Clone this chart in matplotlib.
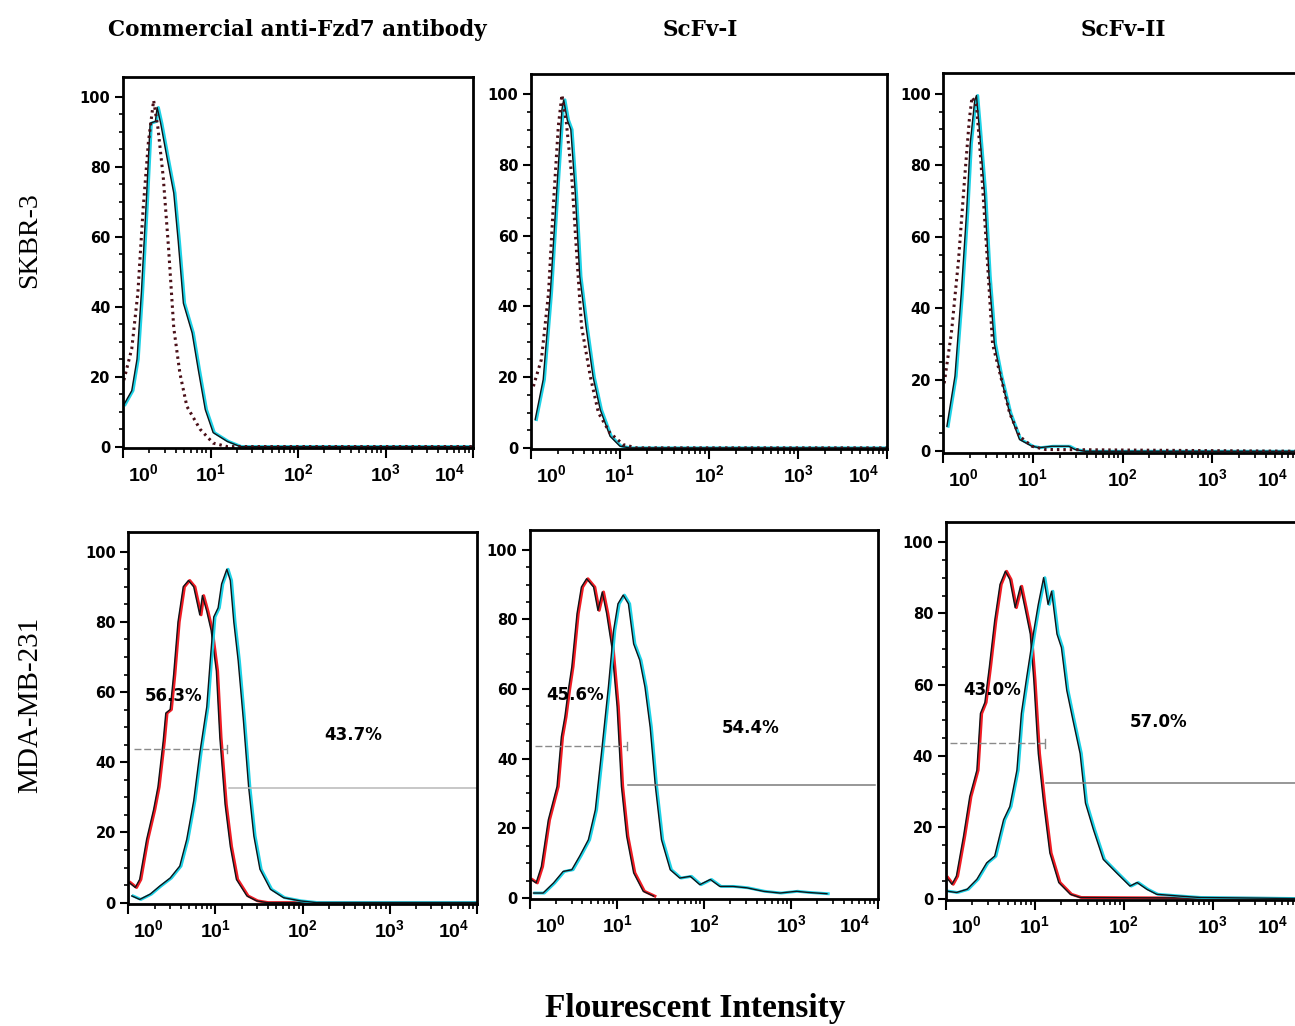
import numpy as np
import matplotlib
matplotlib.use("Agg")
import matplotlib.pyplot as plt
from matplotlib.ticker import FixedLocator, NullFormatter
from matplotlib.transforms import offset_copy, ScaledTranslation

# =====================================================
# DATA (x in log10 units, y = counts in % of max)
# =====================================================

col_titles = ["Commercial anti-Fzd7 antibody", "ScFv-I", "ScFv-II"]
row_titles = ["SKBR-3", "MDA-MB-231"]

# --- SKBR-3 ---
p1_ctrl_lx = [0.01, 0.10, 0.17, 0.23, 0.29, 0.35, 0.40, 0.46, 0.52, 0.58, 0.65, 0.73, 0.88, 1.03, 1.19, 4.0]
p1_ctrl_y = [19, 28, 44, 68, 87, 99, 91, 77, 57, 34, 21, 11.5, 5, 1, 0, 0]
p1_samp_lx = [0.01, 0.10, 0.16, 0.21, 0.27, 0.31, 0.37, 0.39, 0.43, 0.50, 0.58, 0.63, 0.69, 0.79, 0.86, 0.94, 1.03, 1.19, 1.34, 4.0]
p1_samp_y = [12, 16, 25, 44, 72, 92.5, 93, 97, 92.5, 83, 72.5, 59, 41, 32.5, 22, 10.6, 4, 1.5, 0, 0]

p2_ctrl_lx = [0.03, 0.12, 0.20, 0.25, 0.31, 0.35, 0.40, 0.46, 0.52, 0.57, 0.67, 0.76, 0.89, 1.04, 1.19, 4.0]
p2_ctrl_y = [17.4, 25, 43.8, 67, 91, 99.8, 92, 76.7, 53.2, 34.4, 20, 9.9, 4.2, 0.9, 0, 0]
p2_samp_lx = [0.05, 0.14, 0.22, 0.29, 0.35, 0.37, 0.41, 0.45, 0.50, 0.55, 0.62, 0.70, 0.78, 0.89, 1.00, 1.11, 4.0]
p2_samp_y = [8, 19.3, 43.8, 72, 95.6, 98.4, 92.7, 90, 72, 48.5, 34.4, 20, 10.8, 3.3, 0.5, 0, 0]

p3_ctrl_lx = [0.01, 0.09, 0.17, 0.24, 0.29, 0.32, 0.37, 0.42, 0.48, 0.55, 0.64, 0.74, 0.85, 0.99, 1.14, 4.0]
p3_ctrl_y = [19, 33, 53.5, 77, 92.6, 99, 97, 81, 58, 30, 21, 10.7, 4.2, 1.4, 0.5, 0]
p3_samp_lx = [0.04, 0.13, 0.20, 0.26, 0.30, 0.35, 0.37, 0.40, 0.46, 0.51, 0.57, 0.64, 0.74, 0.85, 0.99, 1.07, 1.21, 1.40, 1.47, 1.58, 4.0]
p3_samp_y = [7, 21, 44, 67, 86, 98, 99.5, 90.7, 72, 49, 30, 21, 10.7, 3.3, 1.4, 1, 1.4, 1.4, 0.5, 0, 0]

# --- MDA-MB-231 ---
p4_ctrl_lx = [0.01, 0.08, 0.13, 0.21, 0.29, 0.34, 0.40, 0.43, 0.48, 0.52, 0.57, 0.63, 0.69, 0.75, 0.82, 0.85,
              0.90, 0.95, 1.01, 1.05, 1.11, 1.17, 1.24, 1.36, 1.47, 1.59, 4.0]
p4_ctrl_y = [5.7, 4.3, 6.6, 18, 26.5, 33, 46, 54, 55, 65, 80, 90, 91.8, 90, 82, 87.5,
             83, 77.6, 66, 47, 28, 16, 6.6, 1.9, 0.5, 0, 0]
p4_samp_lx = [0.04, 0.13, 0.25, 0.36, 0.48, 0.59, 0.67, 0.75, 0.82, 0.90, 0.94, 0.98, 1.03, 1.07, 1.13,
              1.17, 1.21, 1.26, 1.32, 1.38, 1.44, 1.51, 1.63, 1.78, 1.97, 2.16, 4.0]
p4_samp_y = [1.9, 0.9, 2.4, 4.7, 7, 10.4, 18, 29, 42.6, 55.8, 69, 81.4, 84, 90.8, 95,
             91.8, 80, 69, 52, 33, 19, 9.5, 3.8, 1.4, 0.5, 0, 0]

p5_ctrl_lx = [0.01, 0.07, 0.13, 0.21, 0.31, 0.36, 0.40, 0.44, 0.48, 0.54, 0.59, 0.65, 0.73, 0.78, 0.83,
              0.88, 0.94, 1.00, 1.05, 1.11, 1.19, 1.30, 1.42]
p5_ctrl_y = [5.3, 4.3, 9, 22.4, 32, 46.3, 52, 59.7, 66.4, 81.7, 89.3, 91.7, 89.3, 82.6, 87.9,
             81.7, 72, 55, 32, 17.7, 7.2, 1.9, 0.5]
p5_samp_lx = [0.04, 0.15, 0.27, 0.38, 0.48, 0.57, 0.67, 0.75, 0.82, 0.90, 0.96, 1.01, 1.07, 1.13, 1.19,
              1.26, 1.32, 1.38, 1.44, 1.51, 1.61, 1.72, 1.84, 1.95, 2.07, 2.18, 2.33, 2.49, 2.68,
              2.87, 3.06, 3.18, 3.41]
p5_samp_y = [1.4, 1.4, 4.3, 7.6, 8.1, 12, 16.7, 25.3, 41.5, 60.6, 76.9, 84.5, 87, 84.5, 73,
             68.3, 60.6, 49, 32, 16.7, 8.1, 5.7, 6.2, 3.8, 5.3, 3.3, 3.3, 2.9, 1.9,
             1.4, 1.9, 1.6, 1.2]

p6_ctrl_lx = [0.01, 0.07, 0.12, 0.20, 0.27, 0.35, 0.39, 0.44, 0.49, 0.55, 0.61, 0.67, 0.72, 0.78, 0.84,
              0.89, 0.95, 0.99, 1.04, 1.10, 1.17, 1.27, 1.40, 1.51, 4.0]
p6_ctrl_y = [5.9, 4, 6.3, 17.5, 28.6, 36, 51.9, 55, 64.9, 77.9, 88.1, 91.8, 89.5, 81.6, 87.6,
             81.6, 74.2, 61.2, 40.7, 26.8, 12.8, 4.5, 1.2, 0.3, 0]
p6_samp_lx = [0.01, 0.12, 0.24, 0.35, 0.46, 0.55, 0.65, 0.72, 0.80, 0.85, 0.91, 0.99, 1.04, 1.10, 1.15,
              1.19, 1.25, 1.30, 1.36, 1.43, 1.51, 1.57, 1.66, 1.77, 1.92, 2.07, 2.15, 2.26, 2.37,
              2.63, 2.86, 4.0]
p6_samp_y = [2.1, 1.7, 2.6, 5.4, 10, 11.9, 22.1, 25.8, 36, 51.9, 62.1, 75.1, 82.5, 90, 82.5,
             86.2, 74.2, 70.4, 58.4, 50, 40.7, 26.8, 19.3, 11, 7.2, 3.5, 4.5, 2.6, 1.2,
             0.7, 0.3, 0]

# gates (x0, x1, y) in log10 units
gate_neg = [(0.06, 1.13, 43.7), (0.06, 1.11, 43.6), (0.05, 1.12, 43.5)]
gate_pos = [(1.16, 4.0, 32.6), (1.13, 3.96, 32.5), (1.13, 4.0, 32.3)]
pct_neg = ["56.3%", "45.6%", "43.0%"]
pct_pos = ["43.7%", "54.4%", "57.0%"]
pct_neg_pos = [(0.52, 58.8), (0.52, 58.3), (0.52, 58.6)]
pct_pos_pos = [(2.58, 47.8), (2.53, 48.7), (2.39, 49.5)]

# axes boxes in pixels: left, right, top, bottom
W, H = 1295, 1026
boxes = [
    (123, 473, 77, 448), (530.7, 887.3, 74, 449.3), (943.3, 1301.7, 73.3, 452.7),
    (128.3, 477, 531.7, 904), (530, 878.3, 530, 899.3), (945.7, 1301.7, 521.7, 900),
]
last_label_shift = [-8, -8, -13, -8, -8, -13]

ctrl = [(p1_ctrl_lx, p1_ctrl_y), (p2_ctrl_lx, p2_ctrl_y), (p3_ctrl_lx, p3_ctrl_y),
        (p4_ctrl_lx, p4_ctrl_y), (p5_ctrl_lx, p5_ctrl_y), (p6_ctrl_lx, p6_ctrl_y)]
samp = [(p1_samp_lx, p1_samp_y), (p2_samp_lx, p2_samp_y), (p3_samp_lx, p3_samp_y),
        (p4_samp_lx, p4_samp_y), (p5_samp_lx, p5_samp_y), (p6_samp_lx, p6_samp_y)]

plt.rcParams["mathtext.fontset"] = "custom"
plt.rcParams["mathtext.rm"] = "Liberation Sans:bold"
plt.rcParams["mathtext.it"] = "Liberation Sans:bold"
plt.rcParams["mathtext.bf"] = "Liberation Sans:bold"

# =====================================================
# FIGURE
# =====================================================

fig = plt.figure(figsize=(W / 100, H / 100), dpi=100)


def colour_line(ax, lx, y, colour):
    # black trace with a coloured fringe on its right side
    x = 10 ** np.array(lx)
    shifted = offset_copy(ax.transData, fig=fig, x=1.3, y=0, units="dots")
    ax.plot(x, y, color=colour, lw=2.1, transform=shifted)
    ax.plot(x, y, color="#101418", lw=1.0)


for i, (l, r, t, b) in enumerate(boxes):
    ax = fig.add_axes([l / W, 1 - b / H, (r - l) / W, (b - t) / H])
    ax.set_xscale("log")
    ax.set_xlim(1, 1e4)
    ax.set_ylim(-0.4, 105.7)

    cx, cy = ctrl[i]
    sx, sy = samp[i]
    if i < 3:
        colour_line(ax, sx, sy, "#1ed2e6")
        ax.plot(10 ** np.array(cx), cy, color="#4a1018", lw=2.2,
                linestyle=(0, (0.8, 1.3)))
    else:
        colour_line(ax, cx, cy, "#f01c24")
        colour_line(ax, sx, sy, "#1ed2e6")

        j = i - 3
        x0, x1, gy = gate_neg[j]
        ax.plot([10 ** x0, 10 ** x1], [gy, gy], color="#8a8a8a", lw=1,
                linestyle=(0, (5, 2)))
        ax.plot([10 ** x1, 10 ** x1], [gy - 1.2, gy + 1.2], color="#8a8a8a", lw=1)
        x0, x1, gy = gate_pos[j]
        ax.plot([10 ** x0, 10 ** x1], [gy, gy],
                color="#b8b8b8" if j == 0 else "#7a7a7a", lw=1.1)
        px, py = pct_neg_pos[j]
        ax.text(10 ** px, py, pct_neg[j], ha="center", va="center",
                fontsize=12, fontweight="bold", family="DejaVu Sans")
        px, py = pct_pos_pos[j]
        ax.text(10 ** px, py, pct_pos[j], ha="center", va="center",
                fontsize=12, fontweight="bold", family="DejaVu Sans")

    for s in ax.spines.values():
        s.set_linewidth(2.0)

    ax.yaxis.set_major_locator(FixedLocator([0, 20, 40, 60, 80, 100]))
    ax.yaxis.set_minor_locator(FixedLocator(np.arange(0, 101, 5)))
    ax.tick_params(axis="y", which="major", direction="out", length=6, width=1.5, pad=3)
    ax.tick_params(axis="y", which="minor", direction="out", length=3, width=1.2)
    ax.set_yticklabels(["0", "20", "40", "60", "80", "100"],
                       fontsize=10.5, fontweight="bold", family="DejaVu Sans")

    ax.xaxis.set_major_locator(FixedLocator([1, 10, 100, 1000, 10000]))
    ax.xaxis.set_minor_locator(FixedLocator(
        [m * 10 ** d for d in range(4) for m in range(2, 10)]))
    ax.xaxis.set_minor_formatter(NullFormatter())
    ax.tick_params(axis="x", which="major", direction="out", length=7, width=1.5, pad=4)
    ax.tick_params(axis="x", which="minor", direction="out", length=3.5, width=1.2)
    labs = ax.set_xticklabels([r"$10^{%d}$" % k for k in range(5)], fontsize=14)
    labs[0].set_horizontalalignment("left")
    labs[0].set_transform(labs[0].get_transform()
                          + ScaledTranslation(5 / 100, 0, fig.dpi_scale_trans))
    labs[-1].set_horizontalalignment("right")
    labs[-1].set_transform(labs[-1].get_transform()
                           + ScaledTranslation(last_label_shift[i] / 100, 0,
                                               fig.dpi_scale_trans))

# =====================================================
# TEXT
# =====================================================

col_x = [297, 700, 1123]
for x, t in zip(col_x, col_titles):
    fig.text(x / W, 1 - 30 / H, t, ha="center", va="center",
             fontsize=15.5, fontweight="bold", family="DejaVu Serif")

fig.text(30 / W, 1 - 240 / H, row_titles[0], rotation=90, ha="center", va="center",
         fontsize=20, family="Liberation Serif")
fig.text(30 / W, 1 - 705 / H, row_titles[1], rotation=90, ha="center", va="center",
         fontsize=21, family="Liberation Serif")

fig.text(695 / W, 1 - 1008 / H, "Flourescent Intensity", ha="center", va="center",
         fontsize=24, fontweight="bold", family="Liberation Serif")

fig.savefig("out.png", dpi=100, facecolor="white")
